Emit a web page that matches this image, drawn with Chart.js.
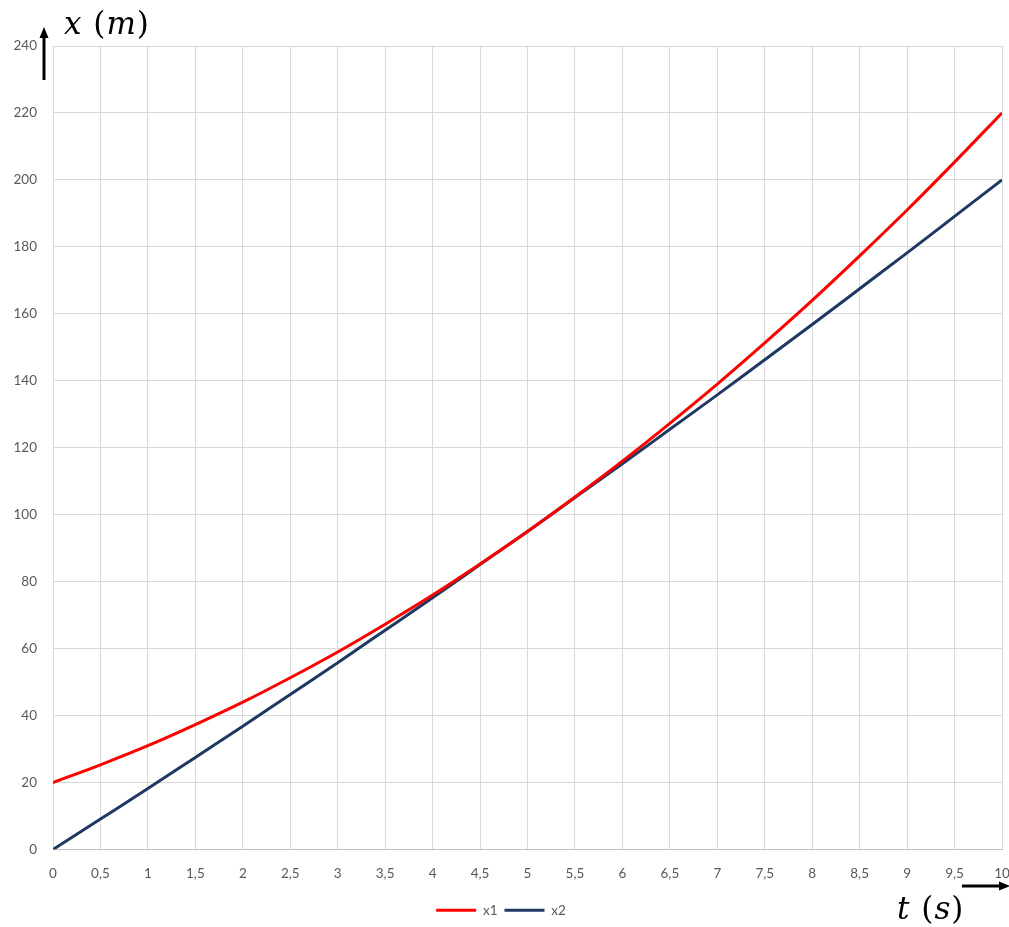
<!DOCTYPE html>
<html>
<head>
<meta charset="utf-8">
<script src="https://cdn.jsdelivr.net/npm/chart.js@4.4.0/dist/chart.umd.min.js"></script>
<style>
  html, body { margin: 0; padding: 0; background: #fff; }
  #wrap { position: relative; width: 1009px; height: 927px; }
  .ttl { position: absolute; font-family: "DejaVu Serif", "Liberation Serif", serif; font-size: 31px; color: #000; white-space: nowrap; letter-spacing: 1px; }
  .ttl i { font-style: italic; }
</style>
</head>
<body>
<div id="wrap">
  <canvas id="c" width="1009" height="927"></canvas>
  <div class="ttl" style="left:64px; top:5px;"><i>x</i> (<i>m</i>)</div>
  <div class="ttl" style="left:897px; top:890px;"><i>t</i> (<i>s</i>)</div>
</div>
<script>
// values, one per half second
var times = [0, 0.5, 1, 1.5, 2, 2.5, 3, 3.5, 4, 4.5, 5, 5.5, 6, 6.5, 7, 7.5, 8, 8.5, 9, 9.5, 10];
var x1 = [20, 25.3, 31, 37.3, 44, 51.3, 59, 67.3, 76, 85.3, 95, 105.3, 116, 127.3, 139, 151.3, 164, 177.3, 191, 205.3, 220];
var x2 = [0, 9.1, 18.2, 27.5, 36.8, 46.3, 55.8, 65.5, 75.2, 85.1, 95, 105.1, 115.2, 125.5, 135.8, 146.3, 156.8, 167.5, 178.2, 189.1, 200];
var yTicks = [0, 20, 40, 60, 80, 100, 120, 140, 160, 180, 200, 220, 240];

function pts(vals) {
  return times.map(function (t, i) { return { x: t, y: vals[i] }; });
}

// axis arrows (up on the y side, right under the last t label)
var arrows = {
  id: 'arrows',
  afterDraw: function (chart) {
    var ctx = chart.ctx;
    ctx.save();
    ctx.strokeStyle = '#000';
    ctx.fillStyle = '#000';
    ctx.lineWidth = 3;
    ctx.beginPath(); ctx.moveTo(44, 80); ctx.lineTo(44, 36); ctx.stroke();
    ctx.beginPath(); ctx.moveTo(44, 27); ctx.lineTo(39.5, 38); ctx.lineTo(48.5, 38); ctx.closePath(); ctx.fill();
    ctx.beginPath(); ctx.moveTo(962, 886); ctx.lineTo(1000, 886); ctx.stroke();
    ctx.beginPath(); ctx.moveTo(1010, 886); ctx.lineTo(999, 881.5); ctx.lineTo(999, 890.5); ctx.closePath(); ctx.fill();
    ctx.restore();
  }
};

new Chart(document.getElementById('c').getContext('2d'), {
  type: 'line',
  data: {
    datasets: [
      { label: 'x1', data: pts(x1), borderColor: '#ff0000', backgroundColor: '#ff0000', borderWidth: 3, pointRadius: 0, cubicInterpolationMode: 'monotone', pointStyle: 'line' },
      { label: 'x2', data: pts(x2), borderColor: '#1f3864', backgroundColor: '#1f3864', borderWidth: 3, pointRadius: 0, cubicInterpolationMode: 'monotone', pointStyle: 'line' }
    ]
  },
  options: {
    responsive: false,
    animation: false,
    layout: { padding: { top: 46, right: 7, bottom: 0, left: 0 } },
    scales: {
      x: {
        type: 'linear', min: 0, max: 10,
        afterBuildTicks: function (s) { s.ticks = times.map(function (v) { return { value: v }; }); },
        afterFit: function (s) { s.height = 47; s.paddingRight = 0; s.paddingLeft = 0; },
        grid: { color: '#d9d9d9', drawTicks: false },
        border: { color: '#bfbfbf' },
        ticks: {
          padding: 16, color: '#595959', font: { family: 'Lato', size: 13.5 }, maxRotation: 0, autoSkip: false,
          callback: function (v) { return String(v).replace('.', ','); }
        }
      },
      y: {
        min: 0, max: 240,
        afterBuildTicks: function (s) { s.ticks = yTicks.map(function (v) { return { value: v }; }); },
        afterFit: function (s) { s.width = 53; s.paddingTop = 0; s.paddingBottom = 0; },
        grid: { color: '#d9d9d9', drawTicks: false },
        border: { color: '#d9d9d9' },
        ticks: { padding: 16, color: '#595959', font: { family: 'Lato', size: 13.5 } }
      }
    },
    plugins: {
      legend: {
        position: 'bottom',
        labels: { usePointStyle: true, pointStyleWidth: 40, boxHeight: 3, color: '#595959', font: { family: 'Lato', size: 13.5 }, padding: 7 }
      },
      tooltip: { enabled: false }
    }
  },
  plugins: [arrows]
});
</script>
</body>
</html>
